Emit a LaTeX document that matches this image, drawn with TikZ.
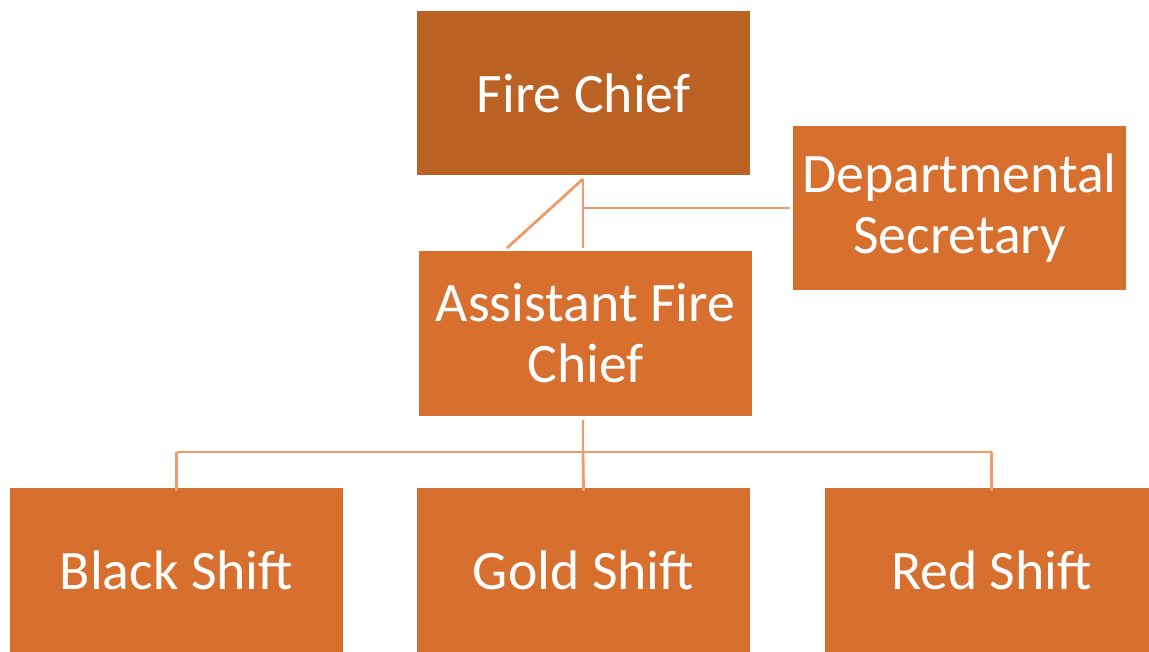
\documentclass[tikz,border=0pt]{standalone}
\usepackage{fontspec}
\setmainfont{Carlito}
\definecolor{chiefbox}{HTML}{BB6225}
\definecolor{staffbox}{HTML}{D7702E}
\definecolor{linkline}{HTML}{EF9A68}
\begin{document}
\begin{tikzpicture}[x=1pt,y=-1pt,
  orgbox/.style={rectangle, fill=staffbox, text=white, minimum width=333pt,
    minimum height=164pt, inner sep=0pt, align=center,
    font=\fontsize{55.7}{61}\selectfont},
  link/.style={draw=linkline, line width=2.8pt}]
\useasboundingbox (0,0) rectangle (1149,652);
\clip (0,0) rectangle (1149,652);
\fill[white] (0,0) rectangle (1149,652);

% boxes
\node[orgbox, fill=chiefbox] (chief) at (583.5,93) {Fire Chief};
\node[orgbox] (sec) at (959.5,208) {Departmental\\Secretary};
\node[orgbox, minimum height=165pt] (asst) at (585.5,333.5) {Assistant Fire\\Chief};
\node[orgbox] (black) at (176.5,570) {Black Shift};
\node[orgbox] (gold) at (583.5,570) {Gold Shift};
\node[orgbox] (red) at (991.5,570) {Red Shift};

% junction points
\coordinate (top) at (583,179);
\coordinate (mid) at (583,208);
\coordinate (bus) at (583,452);

% links between chief, secretary and assistant
\draw[link] (top) -- (583,248);
\draw[link] (top) -- (507,248);
\draw[link] (mid) -- ([xshift=-3pt]sec.west);

% links to the shifts
\draw[link] (583,420) -- (bus);
\draw[link] (black.north |- bus) -- (red.north |- bus);
\draw[link] (black.north |- bus) -- ([yshift=-3pt]black.north);
\draw[link] (bus) -- ([yshift=-3pt]gold.north);
\draw[link] (red.north |- bus) -- ([yshift=-3pt]red.north);
\end{tikzpicture}
\end{document}
